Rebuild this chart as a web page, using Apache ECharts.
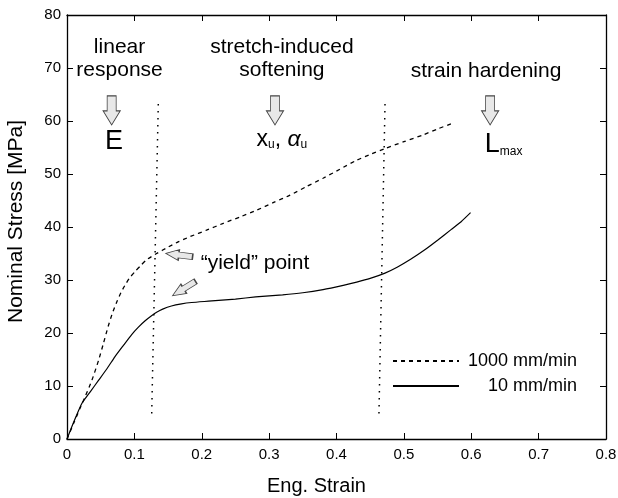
<!DOCTYPE html>
<html>
<head>
<meta charset="utf-8">
<script src="https://cdn.jsdelivr.net/npm/echarts@6/dist/echarts.min.js"></script>
<style>html,body{margin:0;padding:0;background:#fff;}#chart{width:618px;height:498px;}</style>
</head>
<body>
<div id="chart"></div>
<script>
// ---- data ----
const xTicks = [0, 0.1, 0.2, 0.3, 0.4, 0.5, 0.6, 0.7, 0.8];
const yTicks = [0, 10, 20, 30, 40, 50, 60, 70, 80];

const strain1000 = [0, 0.01, 0.02, 0.027, 0.037, 0.047, 0.054, 0.061, 0.067, 0.074, 0.08, 0.086, 0.093, 0.101, 0.11, 0.118, 0.133, 0.15, 0.165, 0.183, 0.207, 0.232, 0.257, 0.282, 0.306, 0.331, 0.355, 0.38, 0.405, 0.43, 0.452, 0.472, 0.5, 0.529, 0.55, 0.573];
const stress1000 = [0, 3.0, 6.0, 8.0, 11.1, 14.9, 18.0, 21.2, 23.6, 25.9, 27.6, 29.0, 30.4, 31.6, 32.8, 33.8, 35.0, 36.2, 37.2, 38.2, 39.4, 40.7, 41.9, 43.2, 44.6, 46.0, 47.6, 49.2, 50.9, 52.6, 53.8, 54.8, 56.1, 57.4, 58.5, 59.6];

const strain10 = [0, 0.01, 0.022, 0.035, 0.047, 0.06, 0.071, 0.084, 0.096, 0.106, 0.116, 0.125, 0.133, 0.142, 0.155, 0.17, 0.185, 0.21, 0.25, 0.28, 0.32, 0.35, 0.38, 0.41, 0.43, 0.45, 0.472, 0.49, 0.51, 0.53, 0.55, 0.57, 0.585, 0.599];
const stress10 = [0, 3.2, 6.7, 9.0, 11.1, 13.4, 15.5, 17.7, 19.7, 21.1, 22.3, 23.2, 23.9, 24.5, 25.1, 25.5, 25.75, 26.0, 26.4, 26.8, 27.2, 27.6, 28.2, 29.0, 29.6, 30.3, 31.3, 32.4, 33.9, 35.6, 37.5, 39.5, 41.0, 42.7];

const boundary1Strain = [0.1355, 0.1257];
const boundary1Stress = [63.2, 4.7];
const boundary2Strain = [0.472, 0.463];
const boundary2Stress = [63.2, 4.7];

const seriesNames = ['1000 mm/min', '10 mm/min'];

const regionLabels = ['linear\nresponse', 'stretch-induced\nsoftening', 'strain hardening', '\u201cyield\u201d point'];
const regionLabelStrain = [0.078, 0.319, 0.622, 0.279];
const regionLabelStress = [71.8, 71.8, 69.4, 33.2];

const paramLabels = ['{big|E}', '{mid|x}{sub|u}{mid|, }{ital|\u03b1}{sub|u}', '{big|L}{sub|max}'];
const paramLabelStrain = [0.0698, 0.319, 0.648];
const paramLabelStress = [56.1, 56.5, 55.6];

const arrowStrain = [0.0663, 0.3087, 0.628, 0.1665, 0.1737];
const arrowStress = [62.0, 62.0, 62.0, 34.7, 28.4];
const arrowRotate = [0, 0, 0, -97, -58];

// ---- chart ----
const FONT = 'Liberation Sans, Arial, Helvetica, sans-serif';
const zip = (a, b) => a.map((v, i) => [v, b[i]]);
const arrowPath = 'path://M4,0 L13,0 L13,15 L17,15 L8.5,29 L0,15 L4,15 Z';

const chart = echarts.init(document.getElementById('chart'), null, {renderer: 'canvas'});

const axisCommon = {
  min: 0,
  axisLine: {show: true, onZero: false, lineStyle: {color: '#000', width: 1.3}},
  axisTick: {show: true, inside: true, length: 6, lineStyle: {color: '#000', width: 1}},
  splitLine: {show: false}
};

const labelNoStroke = {textBorderWidth: 0, textBorderColor: 'transparent', textShadowBlur: 0, opacity: 1};

const option = {
  animation: false,
  backgroundColor: '#fff',
  textStyle: {fontFamily: FONT},
  grid: {left: 67, right: 12, top: 15, bottom: 59, containLabel: false, outerBoundsMode: 'none'},
  xAxis: [
    Object.assign({}, axisCommon, {
      type: 'value', position: 'bottom', max: xTicks[xTicks.length - 1], interval: xTicks[1] - xTicks[0],
      name: 'Eng. Strain', nameLocation: 'middle', nameGap: 37,
      nameTextStyle: {fontSize: 20, color: '#000', fontFamily: FONT, padding: [0, 40, 0, 0]},
      axisLabel: {fontSize: 15, color: '#000', margin: 8, fontFamily: FONT,
        formatter: v => (v === 0 ? '0' : String(+v.toFixed(1)))}
    }),
    Object.assign({}, axisCommon, {
      type: 'value', position: 'top', max: xTicks[xTicks.length - 1], interval: xTicks[1] - xTicks[0],
      axisLabel: {show: false}
    })
  ],
  yAxis: [
    Object.assign({}, axisCommon, {
      type: 'value', position: 'left', max: yTicks[yTicks.length - 1], interval: yTicks[1] - yTicks[0],
      name: 'Nominal Stress [MPa]', nameLocation: 'middle', nameGap: 40,
      nameTextStyle: {fontSize: 21, color: '#000', fontFamily: FONT, padding: [0, 0, 0, 11]},
      axisLabel: {fontSize: 15, color: '#000', margin: 6, fontFamily: FONT}
    }),
    Object.assign({}, axisCommon, {
      type: 'value', position: 'right', max: yTicks[yTicks.length - 1], interval: yTicks[1] - yTicks[0],
      axisLabel: {show: false}
    })
  ],
  legend: {
    data: seriesNames,
    orient: 'vertical',
    left: 392, top: 352, padding: 0,
    itemWidth: 66, itemHeight: 18, itemGap: 7,
    selectedMode: false,
    itemStyle: {color: 'transparent', borderColor: 'transparent', borderWidth: 0, opacity: 0},
    formatter: n => '{r|' + n + '}',
    textStyle: {
      color: '#000', fontFamily: FONT, fontSize: 18,
      rich: {r: {width: 113, align: 'right', fontSize: 18, lineHeight: 18, fontFamily: FONT, color: '#000'}}
    }
  },
  series: [
    {
      name: seriesNames[0], type: 'line', data: zip(strain1000, stress1000),
      symbol: 'none', smooth: 0.2, silent: true,
      lineStyle: {color: '#000', width: 1.3, type: [4, 4]}
    },
    {
      name: seriesNames[1], type: 'line', data: zip(strain10, stress10),
      symbol: 'none', smooth: 0.2, silent: true,
      lineStyle: {color: '#000', width: 1.2, type: 'solid'}
    },
    {
      name: 'b1', type: 'line', data: zip(boundary1Strain, boundary1Stress),
      symbol: 'none', silent: true,
      lineStyle: {color: '#000', width: 1.5, type: [1.5, 5.5]}
    },
    {
      name: 'b2', type: 'line', data: zip(boundary2Strain, boundary2Stress),
      symbol: 'none', silent: true,
      lineStyle: {color: '#000', width: 1.5, type: [1.5, 5.5]}
    },
    {
      name: 'arrows', type: 'scatter', silent: true,
      symbol: arrowPath,
      data: arrowStrain.map((x, i) => ({
        value: [x, arrowStress[i]],
        symbolRotate: arrowRotate[i],
        symbolSize: i < 3 ? [17, 29] : [11, 27]
      })),
      itemStyle: {color: '#e8e8e8', borderColor: '#444', borderWidth: 1, opacity: 1}
    },
    {
      name: 'regionText', type: 'scatter', silent: true, symbolSize: 0,
      itemStyle: {color: '#000', opacity: 1},
      data: regionLabelStrain.map((x, i) => ({value: [x, regionLabelStress[i]], name: regionLabels[i]})),
      label: Object.assign({
        show: true, position: 'inside', formatter: p => p.name,
        fontSize: 21, lineHeight: 23, color: '#000', fontFamily: FONT, align: 'center', verticalAlign: 'middle'
      }, labelNoStroke)
    },
    {
      name: 'paramText', type: 'scatter', silent: true, symbolSize: 0,
      itemStyle: {color: '#000', opacity: 1},
      data: paramLabelStrain.map((x, i) => ({value: [x, paramLabelStress[i]], name: paramLabels[i]})),
      label: Object.assign({
        show: true, position: 'inside', formatter: p => p.name, color: '#000', fontFamily: FONT,
        rich: {
          big: {fontSize: 27, fontFamily: FONT, color: '#000'},
          mid: {fontSize: 23, fontFamily: FONT, color: '#000'},
          ital: {fontSize: 23, fontFamily: FONT, fontStyle: 'italic', color: '#000'},
          sub: {fontSize: 12, fontFamily: FONT, color: '#000', verticalAlign: 'bottom'}
        }
      }, labelNoStroke)
    }
  ]
};
chart.setOption(option);
</script>
</body>
</html>
